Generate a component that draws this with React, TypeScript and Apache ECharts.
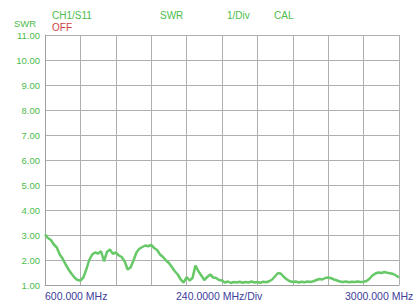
import React, { useEffect, useRef } from "react";
import * as echarts from "echarts";

const FREQ_START = 600;
const FREQ_STOP = 3000;
const FREQ_DIV = 240;
const FREQ_STEP = 20;
const SWR_TICKS = [1, 2, 3, 4, 5, 6, 7, 8, 9, 10, 11];
const SWR_VALUES = [
  3.02, 2.88, 2.8, 2.62, 2.5, 2.22, 2.05, 1.82, 1.62, 1.45,
  1.3, 1.2, 1.18, 1.3, 1.62, 2.0, 2.22, 2.3, 2.26, 2.35,
  1.95, 2.32, 2.42, 2.25, 2.3, 2.18, 2.12, 1.95, 1.62, 1.7,
  1.98, 2.3, 2.45, 2.52, 2.58, 2.55, 2.6, 2.48, 2.4, 2.22,
  2.12, 1.98, 1.88, 1.72, 1.55, 1.42, 1.22, 1.1, 1.32, 1.18,
  1.28, 1.78, 1.55, 1.38, 1.2, 1.32, 1.42, 1.3, 1.28, 1.2,
  1.18, 1.1, 1.14, 1.08, 1.12, 1.1, 1.13, 1.09, 1.12, 1.1,
  1.14, 1.1, 1.12, 1.09, 1.13, 1.11, 1.15, 1.22, 1.35, 1.48,
  1.45, 1.32, 1.22, 1.15, 1.12, 1.14, 1.1, 1.13, 1.11, 1.14,
  1.12, 1.15, 1.2, 1.24, 1.22, 1.28, 1.3, 1.27, 1.22, 1.18,
  1.14, 1.12, 1.14, 1.11, 1.13, 1.12, 1.14, 1.12, 1.13, 1.16,
  1.25, 1.38, 1.46, 1.5, 1.48, 1.52, 1.49, 1.47, 1.44, 1.38,
  1.3,
];
const HEADER_TEXTS = ["CH1/S11", "SWR", "1/Div", "CAL"];
const STATUS_TEXT = "OFF";
const Y_TITLE = "SWR";
const X_LABELS = ["600.000 MHz", "240.0000 MHz/Div", "3000.000 MHz"];

const GREEN = "#4cbc4c";
const LINE_GREEN = "#66c866";
const RED = "#d04040";
const BLUE = "#40409c";
const FONT = "'Liberation Sans', Arial, sans-serif";

export default function App() {
  const ref = useRef<HTMLDivElement>(null);
  useEffect(() => {
    if (!ref.current) return;
    const chart = echarts.init(ref.current, null, { renderer: "svg" });
    const data = SWR_VALUES.map((v, i) => [FREQ_START + i * FREQ_STEP, v]);
    const textStyle = (fill: string, size = 10) => ({
      fill,
      fontSize: size,
      fontFamily: FONT,
    });
    chart.setOption({
      animation: false,
      backgroundColor: "#ffffff",
      grid: { left: 45, right: 18, top: 35, bottom: 20 },
      xAxis: {
        type: "value",
        min: FREQ_START,
        max: FREQ_STOP,
        interval: FREQ_DIV,
        axisLine: { show: true, lineStyle: { color: "#a0a0a0", width: 1 } },
        axisTick: { show: false },
        axisLabel: { show: false },
        splitLine: { show: true, lineStyle: { color: "#b0b0b0", width: 1 } },
      },
      yAxis: {
        type: "value",
        min: SWR_TICKS[0],
        max: SWR_TICKS[SWR_TICKS.length - 1],
        interval: 1,
        axisLine: { show: true, lineStyle: { color: "#a0a0a0", width: 1 } },
        axisTick: { show: false },
        axisLabel: {
          color: GREEN,
          fontSize: 9.5,
          fontFamily: FONT,
          margin: 5,
          formatter: (v: number) => v.toFixed(2),
        },
        splitLine: { show: true, lineStyle: { color: "#b0b0b0", width: 1 } },
      },
      series: [
        {
          type: "line",
          data,
          showSymbol: false,
          lineStyle: { color: LINE_GREEN, width: 2.5 },
        },
      ],
      graphic: [
        { type: "text", left: 52, top: 10, style: { text: HEADER_TEXTS[0], ...textStyle(GREEN) } },
        { type: "text", left: 52, top: 22, style: { text: STATUS_TEXT, ...textStyle(RED) } },
        { type: "text", left: 160, top: 10, style: { text: HEADER_TEXTS[1], ...textStyle(GREEN) } },
        { type: "text", left: 227, top: 10, style: { text: HEADER_TEXTS[2], ...textStyle(GREEN) } },
        { type: "text", left: 274, top: 10, style: { text: HEADER_TEXTS[3], ...textStyle(GREEN) } },
        { type: "text", left: 14, top: 18, style: { text: Y_TITLE, ...textStyle(GREEN, 9.5) } },
        { type: "text", left: 45, top: 290, style: { text: X_LABELS[0], ...textStyle(BLUE, 10.5) } },
        { type: "text", left: 176, top: 290, style: { text: X_LABELS[1], ...textStyle(BLUE, 10.5) } },
        { type: "text", left: 345, top: 290, style: { text: X_LABELS[2], ...textStyle(BLUE, 10.5) } },
      ],
    });
    return () => chart.dispose();
  }, []);
  return (
    <div
      ref={ref}
      style={{ position: "fixed", left: 0, top: 0, width: 417, height: 305 }}
    />
  );
}
